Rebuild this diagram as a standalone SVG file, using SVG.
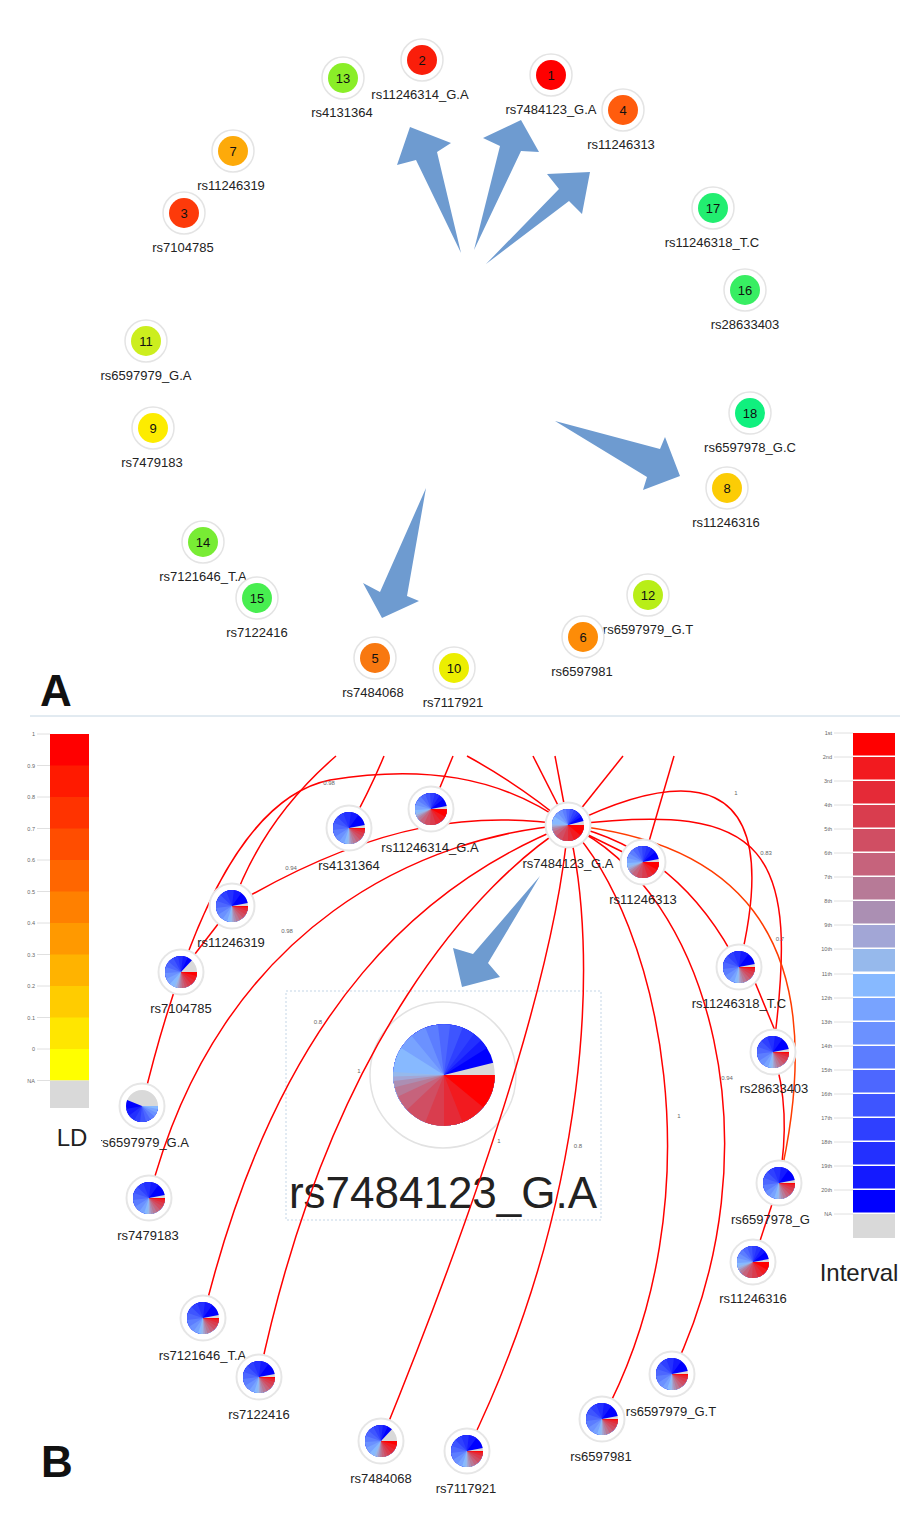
<svg xmlns="http://www.w3.org/2000/svg" width="921" height="1518" viewBox="0 0 921 1518">
<style>
text{font-family:"Liberation Sans",Arial,sans-serif}
.lbl{font-size:13px;fill:#222;text-anchor:middle}
.num{font-size:13px;fill:#111;text-anchor:middle}
.ringA{fill:#fff;stroke:#e4e4e4;stroke-width:1.5}
.ringB{fill:#fff;stroke:#e6e6e6;stroke-width:2}
.arrow{fill:#6e9bd0}
.e{fill:none;stroke:#ff0000;stroke-width:1.5}
.eo{stroke:#ff3c00}
.el{font-size:6px;fill:#666;text-anchor:middle}
.tk{stroke:#e0e0e0;stroke-width:1}
.tl{font-size:5.5px;fill:#666;text-anchor:end}
.big{font-size:44px;fill:#222;text-anchor:middle}
.leg{font-size:24px;fill:#222;text-anchor:middle}
.panel{font-size:44px;font-weight:bold;fill:#111}
.pie circle{fill:none;stroke-width:16}
.c1{stroke:#ff0000}.c2{stroke:#f21a1f}.c3{stroke:#e52a37}.c4{stroke:#d93d4e}.c5{stroke:#d04e63}
.c6{stroke:#c6637c}.c7{stroke:#b77a97}.c8{stroke:#ab8fb3}.c9{stroke:#a2a6d6}.c10{stroke:#96b9ec}
.c11{stroke:#87b9ff}.c12{stroke:#78a3ff}.c13{stroke:#6b91ff}.c14{stroke:#5c7dff}.c15{stroke:#4d67ff}
.c16{stroke:#3e55ff}.c17{stroke:#2f40ff}.c18{stroke:#2330ff}.c19{stroke:#141aff}.c20{stroke:#0000ff}.na{stroke:#d9d9d9}
</style>
<defs>
<clipPath id="clipL"><rect x="101" y="1125" width="200" height="30"/></clipPath>
<g id="pC" class="pie">
<circle r="8" class="na"/>
<circle r="8" pathLength="100" class="c20" stroke-dasharray="96 100"/>
<circle r="8" pathLength="100" class="c19" stroke-dasharray="91 100"/>
<circle r="8" pathLength="100" class="c18" stroke-dasharray="88 100"/>
<circle r="8" pathLength="100" class="c17" stroke-dasharray="85 100"/>
<circle r="8" pathLength="100" class="c16" stroke-dasharray="81 100"/>
<circle r="8" pathLength="100" class="c15" stroke-dasharray="77 100"/>
<circle r="8" pathLength="100" class="c14" stroke-dasharray="73 100"/>
<circle r="8" pathLength="100" class="c13" stroke-dasharray="69 100"/>
<circle r="8" pathLength="100" class="c12" stroke-dasharray="64 100"/>
<circle r="8" pathLength="100" class="c11" stroke-dasharray="59 100"/>
<circle r="8" pathLength="100" class="c10" stroke-dasharray="51 100"/>
<circle r="8" pathLength="100" class="c9" stroke-dasharray="49.5 100"/>
<circle r="8" pathLength="100" class="c8" stroke-dasharray="48 100"/>
<circle r="8" pathLength="100" class="c7" stroke-dasharray="46 100"/>
<circle r="8" pathLength="100" class="c6" stroke-dasharray="43 100"/>
<circle r="8" pathLength="100" class="c5" stroke-dasharray="38 100"/>
<circle r="8" pathLength="100" class="c4" stroke-dasharray="31 100"/>
<circle r="8" pathLength="100" class="c3" stroke-dasharray="25 100"/>
<circle r="8" pathLength="100" class="c2" stroke-dasharray="19 100"/>
<circle r="8" pathLength="100" class="c1" stroke-dasharray="11 100"/>
</g>
<g id="pB" class="pie">
<circle r="8" class="na"/>
<circle r="8" pathLength="100" class="c20" stroke-dasharray="97 100"/>
<circle r="8" pathLength="100" class="c19" stroke-dasharray="85 100"/>
<circle r="8" pathLength="100" class="c18" stroke-dasharray="77 100"/>
<circle r="8" pathLength="100" class="c17" stroke-dasharray="69 100"/>
<circle r="8" pathLength="100" class="c16" stroke-dasharray="62 100"/>
<circle r="8" pathLength="100" class="c15" stroke-dasharray="55 100"/>
<circle r="8" pathLength="100" class="c14" stroke-dasharray="48 100"/>
<circle r="8" pathLength="100" class="c13" stroke-dasharray="41 100"/>
<circle r="8" pathLength="100" class="c12" stroke-dasharray="35 100"/>
<circle r="8" pathLength="100" class="c11" stroke-dasharray="30 100"/>
<circle r="8" pathLength="100" class="c10" stroke-dasharray="27 100"/>
<circle r="8" pathLength="100" class="c9" stroke-dasharray="25 100"/>
<circle r="8" pathLength="100" class="c8" stroke-dasharray="23 100"/>
<circle r="8" pathLength="100" class="c7" stroke-dasharray="20.5 100"/>
<circle r="8" pathLength="100" class="c6" stroke-dasharray="17 100"/>
<circle r="8" pathLength="100" class="c5" stroke-dasharray="13 100"/>
<circle r="8" pathLength="100" class="c4" stroke-dasharray="9 100"/>
<circle r="8" pathLength="100" class="c3" stroke-dasharray="5 100"/>
<circle r="8" pathLength="100" class="c2" stroke-dasharray="2.5 100"/>
<circle r="8" pathLength="100" class="c1" stroke-dasharray="1 100"/>
</g>
<g id="pR" class="pie">
<circle r="8" class="na"/>
<circle r="8" pathLength="100" class="c20" stroke-dasharray="97 100"/>
<circle r="8" pathLength="100" class="c19" stroke-dasharray="89 100"/>
<circle r="8" pathLength="100" class="c18" stroke-dasharray="84 100"/>
<circle r="8" pathLength="100" class="c17" stroke-dasharray="79 100"/>
<circle r="8" pathLength="100" class="c16" stroke-dasharray="74 100"/>
<circle r="8" pathLength="100" class="c15" stroke-dasharray="69 100"/>
<circle r="8" pathLength="100" class="c14" stroke-dasharray="64 100"/>
<circle r="8" pathLength="100" class="c13" stroke-dasharray="59 100"/>
<circle r="8" pathLength="100" class="c12" stroke-dasharray="54 100"/>
<circle r="8" pathLength="100" class="c11" stroke-dasharray="49 100"/>
<circle r="8" pathLength="100" class="c10" stroke-dasharray="46 100"/>
<circle r="8" pathLength="100" class="c9" stroke-dasharray="44 100"/>
<circle r="8" pathLength="100" class="c8" stroke-dasharray="42 100"/>
<circle r="8" pathLength="100" class="c7" stroke-dasharray="40 100"/>
<circle r="8" pathLength="100" class="c6" stroke-dasharray="37 100"/>
<circle r="8" pathLength="100" class="c5" stroke-dasharray="32 100"/>
<circle r="8" pathLength="100" class="c4" stroke-dasharray="26 100"/>
<circle r="8" pathLength="100" class="c3" stroke-dasharray="20 100"/>
<circle r="8" pathLength="100" class="c2" stroke-dasharray="14 100"/>
<circle r="8" pathLength="100" class="c1" stroke-dasharray="8 100"/>
</g>
<g id="pD" class="pie">
<circle r="8" class="na"/>
<circle r="8" pathLength="100" class="c20" stroke-dasharray="87 100"/>
<circle r="8" pathLength="100" class="c19" stroke-dasharray="82 100"/>
<circle r="8" pathLength="100" class="c18" stroke-dasharray="77 100"/>
<circle r="8" pathLength="100" class="c17" stroke-dasharray="72 100"/>
<circle r="8" pathLength="100" class="c16" stroke-dasharray="67 100"/>
<circle r="8" pathLength="100" class="c15" stroke-dasharray="61 100"/>
<circle r="8" pathLength="100" class="c14" stroke-dasharray="55 100"/>
<circle r="8" pathLength="100" class="c13" stroke-dasharray="49 100"/>
<circle r="8" pathLength="100" class="c12" stroke-dasharray="43 100"/>
<circle r="8" pathLength="100" class="c11" stroke-dasharray="37 100"/>
<circle r="8" pathLength="100" class="c10" stroke-dasharray="32 100"/>
<circle r="8" pathLength="100" class="c9" stroke-dasharray="30 100"/>
<circle r="8" pathLength="100" class="c8" stroke-dasharray="28 100"/>
<circle r="8" pathLength="100" class="c7" stroke-dasharray="26 100"/>
<circle r="8" pathLength="100" class="c6" stroke-dasharray="24 100"/>
<circle r="8" pathLength="100" class="c5" stroke-dasharray="21 100"/>
<circle r="8" pathLength="100" class="c4" stroke-dasharray="18 100"/>
<circle r="8" pathLength="100" class="c3" stroke-dasharray="14 100"/>
<circle r="8" pathLength="100" class="c2" stroke-dasharray="9 100"/>
<circle r="8" pathLength="100" class="c1" stroke-dasharray="4 100"/>
</g>
<g id="pN" class="pie">
<circle r="8" class="na"/>
<circle r="8" pathLength="100" class="c20" stroke-dasharray="56 100"/>
<circle r="8" pathLength="100" class="c19" stroke-dasharray="47 100"/>
<circle r="8" pathLength="100" class="c18" stroke-dasharray="40 100"/>
<circle r="8" pathLength="100" class="c17" stroke-dasharray="33 100"/>
<circle r="8" pathLength="100" class="c16" stroke-dasharray="27 100"/>
<circle r="8" pathLength="100" class="c15" stroke-dasharray="21 100"/>
<circle r="8" pathLength="100" class="c14" stroke-dasharray="16 100"/>
<circle r="8" pathLength="100" class="c13" stroke-dasharray="11 100"/>
<circle r="8" pathLength="100" class="c12" stroke-dasharray="7 100"/>
<circle r="8" pathLength="100" class="c11" stroke-dasharray="3 100"/>
</g>
</defs>

<rect width="921" height="1518" fill="#fff"/>

<!-- ===== Panel A ===== -->
<g id="arrowsA" class="arrow">
<polygon points="461,253 437,152 451,143 410,127 397,165 416,160"/>
<polygon points="474,250 500,146 483,138 521,120 539,152 521,151"/>
<polygon points="486,264 559,189 547,174 590,172 582,214 569,201"/>
<polygon points="555,421 660,449 665,437 680,476 643,490 647,477"/>
<polygon points="426,488 407,596 419,601 382,618 363,583 380,592"/>
</g>

<g id="a-n1"><circle class="ringA" cx="551" cy="75" r="21"/><circle cx="551" cy="75" r="15" fill="#ff0000"/><text class="num" x="551" y="80">1</text><text class="lbl" x="551" y="114">rs7484123_G.A</text></g>
<g id="a-n2"><circle class="ringA" cx="422" cy="60" r="21"/><circle cx="422" cy="60" r="15" fill="#fa1e0a"/><text class="num" x="422" y="65">2</text><text class="lbl" x="420" y="99">rs11246314_G.A</text></g>
<g id="a-n13"><circle class="ringA" cx="343" cy="78" r="21"/><circle cx="343" cy="78" r="15" fill="#8aee28"/><text class="num" x="343" y="83">13</text><text class="lbl" x="342" y="117">rs4131364</text></g>
<g id="a-n4"><circle class="ringA" cx="623" cy="110" r="21"/><circle cx="623" cy="110" r="15" fill="#ff5c0d"/><text class="num" x="623" y="115">4</text><text class="lbl" x="621" y="149">rs11246313</text></g>
<g id="a-n7"><circle class="ringA" cx="233" cy="151" r="21"/><circle cx="233" cy="151" r="15" fill="#fdaa0a"/><text class="num" x="233" y="156">7</text><text class="lbl" x="231" y="190">rs11246319</text></g>
<g id="a-n3"><circle class="ringA" cx="184" cy="213" r="21"/><circle cx="184" cy="213" r="15" fill="#fd3a0a"/><text class="num" x="184" y="218">3</text><text class="lbl" x="183" y="252">rs7104785</text></g>
<g id="a-n17"><circle class="ringA" cx="713" cy="208" r="21"/><circle cx="713" cy="208" r="15" fill="#22ee70"/><text class="num" x="713" y="213">17</text><text class="lbl" x="712" y="247">rs11246318_T.C</text></g>
<g id="a-n16"><circle class="ringA" cx="745" cy="290" r="21"/><circle cx="745" cy="290" r="15" fill="#38ee62"/><text class="num" x="745" y="295">16</text><text class="lbl" x="745" y="329">rs28633403</text></g>
<g id="a-n11"><circle class="ringA" cx="146" cy="341" r="21"/><circle cx="146" cy="341" r="15" fill="#ccee1e"/><text class="num" x="146" y="346">11</text><text class="lbl" x="146" y="380">rs6597979_G.A</text></g>
<g id="a-n9"><circle class="ringA" cx="153" cy="428" r="21"/><circle cx="153" cy="428" r="15" fill="#fdec00"/><text class="num" x="153" y="433">9</text><text class="lbl" x="152" y="467">rs7479183</text></g>
<g id="a-n18"><circle class="ringA" cx="750" cy="413" r="21"/><circle cx="750" cy="413" r="15" fill="#10f07e"/><text class="num" x="750" y="418">18</text><text class="lbl" x="750" y="452">rs6597978_G.C</text></g>
<g id="a-n8"><circle class="ringA" cx="727" cy="488" r="21"/><circle cx="727" cy="488" r="15" fill="#fccc05"/><text class="num" x="727" y="493">8</text><text class="lbl" x="726" y="527">rs11246316</text></g>
<g id="a-n14"><circle class="ringA" cx="203" cy="542" r="21"/><circle cx="203" cy="542" r="15" fill="#78ec34"/><text class="num" x="203" y="547">14</text><text class="lbl" x="203" y="581">rs7121646_T.A</text></g>
<g id="a-n15"><circle class="ringA" cx="257" cy="598" r="21"/><circle cx="257" cy="598" r="15" fill="#48ee50"/><text class="num" x="257" y="603">15</text><text class="lbl" x="257" y="637">rs7122416</text></g>
<g id="a-n12"><circle class="ringA" cx="648" cy="595" r="21"/><circle cx="648" cy="595" r="15" fill="#b8ee18"/><text class="num" x="648" y="600">12</text><text class="lbl" x="648" y="634">rs6597979_G.T</text></g>
<g id="a-n6"><circle class="ringA" cx="583" cy="637" r="21"/><circle cx="583" cy="637" r="15" fill="#fd8c08"/><text class="num" x="583" y="642">6</text><text class="lbl" x="582" y="676">rs6597981</text></g>
<g id="a-n5"><circle class="ringA" cx="375" cy="658" r="21"/><circle cx="375" cy="658" r="15" fill="#f87810"/><text class="num" x="375" y="663">5</text><text class="lbl" x="373" y="697">rs7484068</text></g>
<g id="a-n10"><circle class="ringA" cx="454" cy="668" r="21"/><circle cx="454" cy="668" r="15" fill="#ecee00"/><text class="num" x="454" y="673">10</text><text class="lbl" x="453" y="707">rs7117921</text></g>

<text class="panel" x="40" y="706">A</text>
<line x1="30" y1="716" x2="900" y2="716" stroke="#c5d6e3" stroke-width="1"/>

<!-- ===== Panel B ===== -->
<g id="legendLD">
<rect x="50" y="734" width="39" height="32" fill="#ff0000"/>
<rect x="50" y="765.5" width="39" height="32" fill="#ff1a00"/>
<rect x="50" y="797" width="39" height="32" fill="#ff3300"/>
<rect x="50" y="828.5" width="39" height="32" fill="#ff4d00"/>
<rect x="50" y="860" width="39" height="32" fill="#ff6600"/>
<rect x="50" y="891.5" width="39" height="32" fill="#ff8000"/>
<rect x="50" y="923" width="39" height="32" fill="#ff9900"/>
<rect x="50" y="954.5" width="39" height="32" fill="#ffb300"/>
<rect x="50" y="986" width="39" height="32" fill="#ffcc00"/>
<rect x="50" y="1017.5" width="39" height="32" fill="#ffe600"/>
<rect x="50" y="1049" width="39" height="31.5" fill="#ffff00"/>
<rect x="50" y="1080.5" width="39" height="27.5" fill="#d9d9d9"/>
<g class="tk">
<line x1="37" y1="734" x2="50" y2="734"/><line x1="37" y1="765.5" x2="50" y2="765.5"/><line x1="37" y1="797" x2="50" y2="797"/><line x1="37" y1="828.5" x2="50" y2="828.5"/><line x1="37" y1="860" x2="50" y2="860"/><line x1="37" y1="891.5" x2="50" y2="891.5"/><line x1="37" y1="923" x2="50" y2="923"/><line x1="37" y1="954.5" x2="50" y2="954.5"/><line x1="37" y1="986" x2="50" y2="986"/><line x1="37" y1="1017.5" x2="50" y2="1017.5"/><line x1="37" y1="1049" x2="50" y2="1049"/><line x1="37" y1="1080.5" x2="50" y2="1080.5"/>
</g>
<text class="tl" x="35" y="736">1</text>
<text class="tl" x="35" y="767.5">0.9</text>
<text class="tl" x="35" y="799">0.8</text>
<text class="tl" x="35" y="830.5">0.7</text>
<text class="tl" x="35" y="862">0.6</text>
<text class="tl" x="35" y="893.5">0.5</text>
<text class="tl" x="35" y="925">0.4</text>
<text class="tl" x="35" y="956.5">0.3</text>
<text class="tl" x="35" y="988">0.2</text>
<text class="tl" x="35" y="1019.5">0.1</text>
<text class="tl" x="35" y="1051">0</text>
<text class="tl" x="35" y="1082.5">NA</text>
<text class="leg" x="72" y="1146">LD</text>
</g>

<g id="legendInterval">
<rect x="853" y="733" width="42" height="22.5" fill="#ff0000"/>
<rect x="853" y="757" width="42" height="22.5" fill="#f21a1f"/>
<rect x="853" y="781" width="42" height="22.5" fill="#e52a37"/>
<rect x="853" y="805" width="42" height="22.5" fill="#d93d4e"/>
<rect x="853" y="829" width="42" height="22.5" fill="#d04e63"/>
<rect x="853" y="853" width="42" height="22.5" fill="#c6637c"/>
<rect x="853" y="877" width="42" height="22.5" fill="#b77a97"/>
<rect x="853" y="901" width="42" height="22.5" fill="#ab8fb3"/>
<rect x="853" y="925" width="42" height="22.5" fill="#a2a6d6"/>
<rect x="853" y="949" width="42" height="22.5" fill="#96b9ec"/>
<rect x="853" y="974" width="42" height="22.5" fill="#87b9ff"/>
<rect x="853" y="998" width="42" height="22.5" fill="#78a3ff"/>
<rect x="853" y="1022" width="42" height="22.5" fill="#6b91ff"/>
<rect x="853" y="1046" width="42" height="22.5" fill="#5c7dff"/>
<rect x="853" y="1070" width="42" height="22.5" fill="#4d67ff"/>
<rect x="853" y="1094" width="42" height="22.5" fill="#3e55ff"/>
<rect x="853" y="1118" width="42" height="22.5" fill="#2f40ff"/>
<rect x="853" y="1142" width="42" height="22.5" fill="#2330ff"/>
<rect x="853" y="1166" width="42" height="22.5" fill="#141aff"/>
<rect x="853" y="1190" width="42" height="22.5" fill="#0000ff"/>
<rect x="853" y="1214" width="42" height="24" fill="#d9d9d9"/>
<g class="tk">
<line x1="834" y1="733" x2="853" y2="733"/><line x1="834" y1="757" x2="853" y2="757"/><line x1="834" y1="781" x2="853" y2="781"/><line x1="834" y1="805" x2="853" y2="805"/><line x1="834" y1="829" x2="853" y2="829"/><line x1="834" y1="853" x2="853" y2="853"/><line x1="834" y1="877" x2="853" y2="877"/><line x1="834" y1="901" x2="853" y2="901"/><line x1="834" y1="925" x2="853" y2="925"/><line x1="834" y1="949" x2="853" y2="949"/><line x1="834" y1="974" x2="853" y2="974"/><line x1="834" y1="998" x2="853" y2="998"/><line x1="834" y1="1022" x2="853" y2="1022"/><line x1="834" y1="1046" x2="853" y2="1046"/><line x1="834" y1="1070" x2="853" y2="1070"/><line x1="834" y1="1094" x2="853" y2="1094"/><line x1="834" y1="1118" x2="853" y2="1118"/><line x1="834" y1="1142" x2="853" y2="1142"/><line x1="834" y1="1166" x2="853" y2="1166"/><line x1="834" y1="1190" x2="853" y2="1190"/><line x1="834" y1="1214" x2="853" y2="1214"/>
</g>
<text class="tl" x="832" y="735">1st</text>
<text class="tl" x="832" y="759">2nd</text>
<text class="tl" x="832" y="783">3rd</text>
<text class="tl" x="832" y="807">4th</text>
<text class="tl" x="832" y="831">5th</text>
<text class="tl" x="832" y="855">6th</text>
<text class="tl" x="832" y="879">7th</text>
<text class="tl" x="832" y="903">8th</text>
<text class="tl" x="832" y="927">9th</text>
<text class="tl" x="832" y="951">10th</text>
<text class="tl" x="832" y="976">11th</text>
<text class="tl" x="832" y="1000">12th</text>
<text class="tl" x="832" y="1024">13th</text>
<text class="tl" x="832" y="1048">14th</text>
<text class="tl" x="832" y="1072">15th</text>
<text class="tl" x="832" y="1096">16th</text>
<text class="tl" x="832" y="1120">17th</text>
<text class="tl" x="832" y="1144">18th</text>
<text class="tl" x="832" y="1168">19th</text>
<text class="tl" x="832" y="1192">20th</text>
<text class="tl" x="832" y="1216">NA</text>
<text class="leg" x="859" y="1281">Interval</text>
</g>

<g id="detail">
<rect x="286" y="991" width="315" height="229" fill="none" stroke="#c3d5e6" stroke-width="1" stroke-dasharray="2,2"/>
<circle cx="443" cy="1075" r="73" fill="#fff" stroke="#e2e2e2" stroke-width="1.5"/>
<use href="#pC" transform="translate(444,1075) scale(3.17)"/>
<text class="big" x="443" y="1208">rs7484123_G.A</text>
</g>

<g id="edges">
<path class="e" d="M336,756 Q262,820 232,906"/>
<path class="e" d="M384,756 Q370,790 349,828"/>
<path class="e" d="M453,756 L431,809"/>
<path class="e" d="M467,756 Q520,785 568,825"/>
<path class="e" d="M533,756 L568,825"/>
<path class="e" d="M555,756 L568,825"/>
<path class="e" d="M623,756 L568,825"/>
<path class="e" d="M674,756 L643,862"/>
<path class="e" d="M568,825 C500,775 420,765 330,780 C270,792 220,860 181,972"/>
<path class="e" d="M181,972 Q160,1030 142,1106"/>
<path class="e" d="M232,906 L181,972"/>
<path class="e" d="M568,825 C480,812 380,818 232,906"/>
<path class="e" d="M568,825 C430,835 220,920 149,1198"/>
<path class="e" d="M568,825 C430,880 280,1000 203,1318"/>
<path class="e" d="M568,825 C480,880 330,1040 259,1377"/>
<path class="e" d="M568,825 C560,920 520,1100 381,1441"/>
<path class="e" d="M568,825 C600,950 590,1200 467,1451"/>
<path class="e" d="M568,825 C660,920 720,1200 602,1419"/>
<path class="e" d="M568,825 C710,890 780,1150 672,1374"/>
<path class="e" d="M568,825 L643,862"/>
<path class="e" d="M568,825 Q680,850 739,967"/>
<path class="e" d="M568,825 C680,770 790,760 739,967"/>
<path class="e" d="M568,825 C770,800 800,850 773,1052"/>
<path class="e eo" d="M568,825 C720,840 840,920 779,1183"/>
<path class="e" d="M752,975 L783,1050"/>
<path class="e" d="M773,1052 Q792,1110 779,1183"/>
<path class="e" d="M779,1183 L753,1262"/>
<text class="el" x="329" y="785">0.98</text>
<text class="el" x="291" y="870">0.94</text>
<text class="el" x="287" y="933">0.98</text>
<text class="el" x="318" y="1024">0.8</text>
<text class="el" x="359" y="1073">1</text>
<text class="el" x="499" y="1143">1</text>
<text class="el" x="578" y="1148">0.8</text>
<text class="el" x="679" y="1118">1</text>
<text class="el" x="727" y="1080">0.94</text>
<text class="el" x="736" y="795">1</text>
<text class="el" x="766" y="855">0.83</text>
<text class="el" x="780" y="941">0.7</text>
</g>

<g id="arrowB" class="arrow">
<polygon points="540,876 488,963 500,977 462,987 453,948 473,954"/>
</g>

<g id="b-rs7484123_G.A"><circle class="ringB" cx="568" cy="825" r="22.5"/><use href="#pC" x="568" y="825"/><text class="lbl" x="568" y="868">rs7484123_G.A</text></g>
<g id="b-rs11246314_G.A"><circle class="ringB" cx="431" cy="809" r="22.5"/><use href="#pR" x="431" y="809"/><text class="lbl" x="430" y="852">rs11246314_G.A</text></g>
<g id="b-rs4131364"><circle class="ringB" cx="349" cy="828" r="22.5"/><use href="#pB" x="349" y="828"/><text class="lbl" x="349" y="870">rs4131364</text></g>
<g id="b-rs11246313"><circle class="ringB" cx="643" cy="862" r="22.5"/><use href="#pR" x="643" y="862"/><text class="lbl" x="643" y="904">rs11246313</text></g>
<g id="b-rs11246319"><circle class="ringB" cx="232" cy="906" r="22.5"/><use href="#pB" x="232" y="906"/><text class="lbl" x="231" y="947">rs11246319</text></g>
<g id="b-rs7104785"><circle class="ringB" cx="181" cy="972" r="22.5"/><use href="#pD" x="181" y="972"/><text class="lbl" x="181" y="1013">rs7104785</text></g>
<g id="b-rs11246318_T.C"><circle class="ringB" cx="739" cy="967" r="22.5"/><use href="#pB" x="739" y="967"/><text class="lbl" x="739" y="1008">rs11246318_T.C</text></g>
<g id="b-rs28633403"><circle class="ringB" cx="773" cy="1052" r="22.5"/><use href="#pB" x="773" y="1052"/><text class="lbl" x="774" y="1093">rs28633403</text></g>
<g id="b-rs6597979_G.A"><circle class="ringB" cx="142" cy="1106" r="22.5"/><use href="#pN" x="142" y="1106"/><text class="lbl" x="143.5" y="1147" clip-path="url(#clipL)">rs6597979_G.A</text></g>
<g id="b-rs7479183"><circle class="ringB" cx="149" cy="1198" r="22.5"/><use href="#pB" x="149" y="1198"/><text class="lbl" x="148" y="1240">rs7479183</text></g>
<g id="b-rs7121646_T.A"><circle class="ringB" cx="203" cy="1318" r="22.5"/><use href="#pB" x="203" y="1318"/><text class="lbl" x="202.5" y="1360">rs7121646_T.A</text></g>
<g id="b-rs7122416"><circle class="ringB" cx="259" cy="1377" r="22.5"/><use href="#pB" x="259" y="1377"/><text class="lbl" x="259" y="1419">rs7122416</text></g>
<g id="b-rs7484068"><circle class="ringB" cx="381" cy="1441" r="22.5"/><use href="#pD" x="381" y="1441"/><text class="lbl" x="381" y="1483">rs7484068</text></g>
<g id="b-rs7117921"><circle class="ringB" cx="467" cy="1451" r="22.5"/><use href="#pB" x="467" y="1451"/><text class="lbl" x="466" y="1493">rs7117921</text></g>
<g id="b-rs6597981"><circle class="ringB" cx="602" cy="1419" r="22.5"/><use href="#pB" x="602" y="1419"/><text class="lbl" x="601" y="1461">rs6597981</text></g>
<g id="b-rs6597979_G.T"><circle class="ringB" cx="672" cy="1374" r="22.5"/><use href="#pB" x="672" y="1374"/><text class="lbl" x="671" y="1416">rs6597979_G.T</text></g>
<g id="b-rs11246316"><circle class="ringB" cx="753" cy="1262" r="22.5"/><use href="#pR" x="753" y="1262"/><text class="lbl" x="753" y="1303">rs11246316</text></g>
<g id="b-rs6597978_G"><circle class="ringB" cx="779" cy="1183" r="22.5"/><use href="#pB" x="779" y="1183"/><text class="lbl" x="731" y="1224" style="text-anchor:start">rs6597978_G</text></g>

<text class="panel" x="41" y="1477">B</text>
</svg>
